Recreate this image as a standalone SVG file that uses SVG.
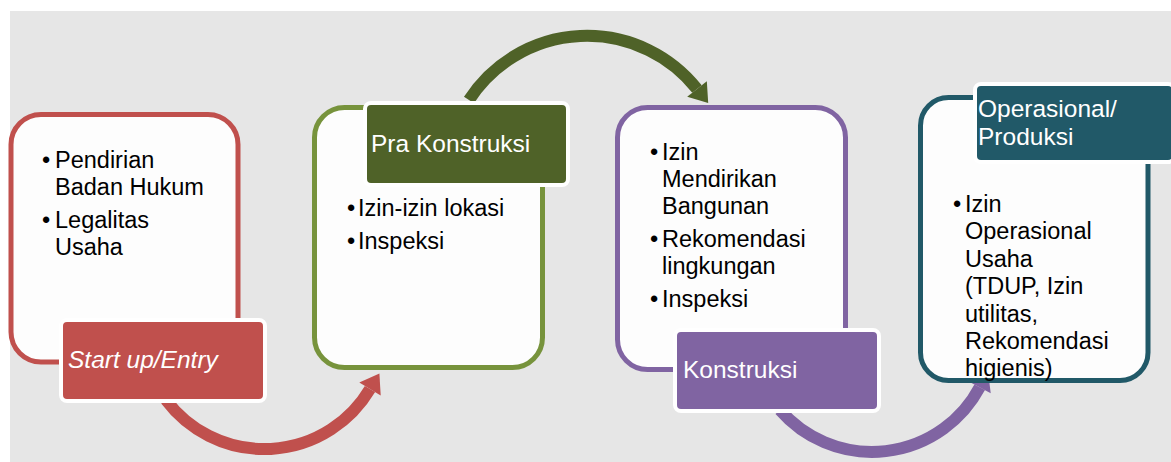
<svg xmlns="http://www.w3.org/2000/svg" width="1171" height="462" viewBox="0 0 1171 462">
<style>
.bg{fill:#e6e6e6}
.box{fill:#fdfdfd;stroke-width:5}
.lbl{stroke:#ffffff;stroke-width:4}
.t{font-family:"Liberation Sans",Arial,sans-serif;font-size:23.5px;fill:#000}
.lt{font-family:"Liberation Sans",Arial,sans-serif;font-size:24.5px;fill:#ffffff}
.arc{fill:none;stroke-width:12}
</style>
<rect class="bg" x="10" y="11" width="1161" height="451"/>
<g id="connectors">
  <path class="arc" stroke="#c0504d" d="M166,400 A123,123 0 0 0 370,389"/>
  <polygon fill="#c0504d" points="379.4,373.6 380.7,395.5 359.3,382.5"/>
  <path class="arc" stroke="#4f6228" d="M469,100 A140.5,140.5 0 0 1 697,89"/>
  <polygon fill="#4f6228" points="708.2,103.1 706.8,81.2 687.2,96.8"/>
  <path class="arc" stroke="#8064a2" d="M780,410 A122,122 0 0 0 979.7,387.3"/>
  <polygon fill="#8064a2" points="988.1,371.4 990.7,393.2 968.7,381.4"/>
</g>
<g id="node-startup">
  <rect class="box" stroke="#c0504d" x="11" y="114.5" width="227" height="247.5" rx="30"/>
  <text class="t" y="168"><tspan x="42">•</tspan><tspan x="55">Pendirian</tspan></text>
  <text class="t" x="55" y="195">Badan Hukum</text>
  <text class="t" y="228"><tspan x="42">•</tspan><tspan x="55">Legalitas</tspan></text>
  <text class="t" x="55" y="255">Usaha</text>
  <rect class="lbl" fill="#c0504d" x="61" y="320" width="204" height="81" rx="6"/>
  <text class="lt" x="68" y="368" font-style="italic" font-size="23">Start up/Entry</text>
</g>
<g id="node-prakonstruksi">
  <rect class="box" stroke="#77933c" x="314.5" y="107.5" width="228" height="260" rx="30"/>
  <rect class="lbl" fill="#4f6228" x="365" y="103" width="203" height="82" rx="6"/>
  <text class="lt" x="371" y="152">Pra Konstruksi</text>
  <text class="t" y="216"><tspan x="347">•</tspan><tspan x="358">Izin-izin lokasi</tspan></text>
  <text class="t" y="249"><tspan x="347">•</tspan><tspan x="358">Inspeksi</tspan></text>
</g>
<g id="node-konstruksi">
  <rect class="box" stroke="#8064a2" x="617.5" y="107.5" width="228" height="262" rx="30"/>
  <text class="t" y="160"><tspan x="650">•</tspan><tspan x="662">Izin</tspan></text>
  <text class="t" x="662" y="187">Mendirikan</text>
  <text class="t" x="662" y="214">Bangunan</text>
  <text class="t" y="247"><tspan x="650">•</tspan><tspan x="662">Rekomendasi</tspan></text>
  <text class="t" x="662" y="274">lingkungan</text>
  <text class="t" y="307"><tspan x="650">•</tspan><tspan x="662">Inspeksi</tspan></text>
  <rect class="lbl" fill="#8064a2" x="675" y="330" width="204" height="81" rx="6"/>
  <text class="lt" x="683" y="378">Konstruksi</text>
</g>
<g id="node-operasional">
  <rect class="box" stroke="#215968" x="920.5" y="97.5" width="227.5" height="283" rx="28"/>
  <rect class="lbl" fill="#215968" x="975" y="84" width="199" height="78" rx="6"/>
  <text class="lt" x="978" y="117">Operasional/</text>
  <text class="lt" x="978" y="145">Produksi</text>
  <text class="t" y="212"><tspan x="953">•</tspan><tspan x="965">Izin</tspan></text>
  <text class="t" x="965" y="239.4">Operasional</text>
  <text class="t" x="965" y="266.8">Usaha</text>
  <text class="t" x="965" y="294.2">(TDUP, Izin</text>
  <text class="t" x="965" y="321.6">utilitas,</text>
  <text class="t" x="965" y="349">Rekomendasi</text>
  <text class="t" x="965" y="376.4">higienis)</text>
</g>
</svg>
